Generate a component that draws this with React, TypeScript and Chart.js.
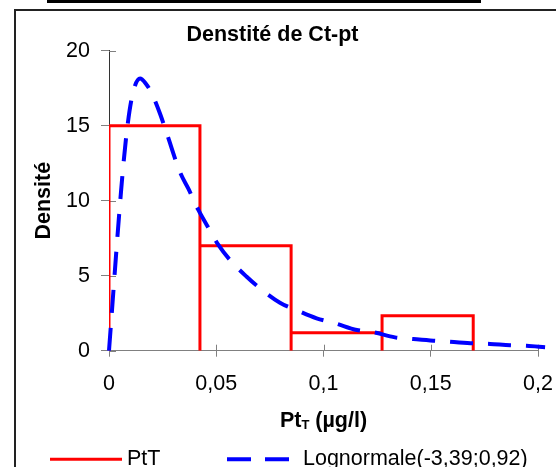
import { useEffect, useRef } from 'react';
import { Chart, registerables } from 'chart.js';

Chart.register(...registerables);

const FONT = "'Liberation Sans', Arial, Helvetica, sans-serif";

// Histogram of PtT: bin edges (µg/l) and density of each bin
const binEdges = [0, 0.0424, 0.0849, 0.1273, 0.1698];
const binDensity = [15, 7, 1.2, 2.33];

// Fitted lognormal density, sampled along x (µg/l)
const curveX = [
  0, 0.0056, 0.0082, 0.011, 0.0145, 0.0172, 0.0199, 0.0238, 0.0269, 0.0331,
  0.037, 0.0416, 0.0455, 0.051, 0.0564, 0.0642, 0.0704, 0.0797, 0.0875, 0.0968,
  0.1054, 0.1155, 0.1232, 0.1333, 0.1419, 0.1512, 0.159, 0.1698, 0.1776, 0.187,
  0.1947, 0.2033,
];
const curveY = [
  0, 10.6, 14.5, 17.1, 18.15, 17.8, 17.16, 15.8, 14.5, 11.9,
  10.8, 9.4, 8.4, 7.05, 6.05, 4.93, 4.16, 3.2, 2.7, 2.16,
  1.83, 1.38, 1.23, 0.89, 0.78, 0.67, 0.6, 0.49, 0.45, 0.36,
  0.33, 0.23,
];

const xTickValues = [0, 0.05, 0.1, 0.15, 0.2];
const yTickValues = [0, 5, 10, 15, 20];

const chartTitle = 'Denstité de Ct-pt';
const yTitle = 'Densité';
const xTitleMain = 'Pt';
const xTitleSub = 'T';
const xTitleUnit = ' (µg/l)';
const seriesNames = ['PtT', 'Lognormale(-3,39;0,92)'];
const seriesColors = ['#ff0000', '#0000ff'];
const curveDash = [23, 15];

const fmt = (v: number) => String(parseFloat(v.toFixed(4))).replace('.', ',');

// Step outline of the histogram: up, across, down for each bin
function histogramOutline() {
  const pts: { x: number; y: number }[] = [{ x: binEdges[0], y: 0 }];
  binDensity.forEach((d, i) => {
    pts.push({ x: binEdges[i], y: d }, { x: binEdges[i + 1], y: d }, { x: binEdges[i + 1], y: 0 });
  });
  return pts;
}

// Tick marks that cross the axes (inner half; the outer half is Chart.js's own)
const innerTicks = {
  id: 'innerTicks',
  beforeDatasetsDraw(chart: any) {
    const { ctx, scales } = chart;
    const x = scales.x;
    const y = scales.y;
    ctx.save();
    ctx.strokeStyle = '#808080';
    ctx.lineWidth = 1;
    ctx.beginPath();
    x.ticks.forEach((_t: any, i: number) => {
      const px = Math.round(x.getPixelForTick(i)) + 0.5;
      ctx.moveTo(px, y.bottom);
      ctx.lineTo(px, y.bottom - 6);
    });
    y.ticks.forEach((_t: any, i: number) => {
      const py = Math.round(y.getPixelForTick(i)) + 0.5;
      ctx.moveTo(x.left, py);
      ctx.lineTo(x.left + 7, py);
    });
    ctx.stroke();
    ctx.restore();
  },
};

// X axis title with subscript, and the legend row
const extraText = {
  id: 'extraText',
  afterDraw(chart: any) {
    const { ctx, chartArea } = chart;
    ctx.save();
    ctx.fillStyle = '#000';
    ctx.textBaseline = 'alphabetic';
    ctx.textAlign = 'left';

    const big = `bold 21.5px ${FONT}`;
    const small = `bold 13px ${FONT}`;
    ctx.font = big;
    const w1 = ctx.measureText(xTitleMain).width;
    const w3 = ctx.measureText(xTitleUnit).width;
    ctx.font = small;
    const w2 = ctx.measureText(xTitleSub).width;
    const cx = (chartArea.left + chartArea.right) / 2;
    const base = chartArea.bottom + 76.3;
    let tx = cx - (w1 + w2 + w3) / 2;
    ctx.font = big;
    ctx.fillText(xTitleMain, tx, base);
    tx += w1;
    ctx.font = small;
    ctx.fillText(xTitleSub, tx, base + 1.5);
    tx += w2;
    ctx.font = big;
    ctx.fillText(xTitleUnit, tx, base);

    // legend
    const ly = 459.3;
    const textBase = 465;
    const items = [
      { x0: 50, x1: 122, tx: 127, width: 3, dash: [] as number[] },
      { x0: 227, x1: 299, tx: 303, width: 4, dash: [24, 14] },
    ];
    ctx.font = `21.5px ${FONT}`;
    items.forEach((it, i) => {
      ctx.save();
      ctx.strokeStyle = seriesColors[i];
      ctx.lineWidth = it.width;
      ctx.lineCap = 'butt';
      ctx.setLineDash(it.dash);
      ctx.beginPath();
      ctx.moveTo(it.x0, ly);
      ctx.lineTo(it.x1, ly);
      ctx.stroke();
      ctx.restore();
      ctx.fillText(seriesNames[i], it.tx, textBase);
    });
    ctx.restore();
  },
};

export default function App() {
  const canvasRef = useRef<HTMLCanvasElement | null>(null);

  useEffect(() => {
    const canvas = canvasRef.current;
    if (!canvas) return;
    const chart = new Chart(canvas, {
      type: 'scatter',
      data: {
        datasets: [
          {
            label: seriesNames[0],
            data: histogramOutline(),
            showLine: true,
            borderColor: seriesColors[0],
            backgroundColor: seriesColors[0],
            borderWidth: 3,
            pointRadius: 0,
            pointHoverRadius: 0,
            tension: 0,
            fill: false,
            order: 1,
            borderJoinStyle: 'miter',
          },
          {
            label: seriesNames[1],
            data: curveX.map((x, i) => ({ x, y: curveY[i] })),
            showLine: true,
            borderColor: seriesColors[1],
            backgroundColor: seriesColors[1],
            borderWidth: 4,
            borderDash: curveDash,
            pointRadius: 0,
            pointHoverRadius: 0,
            cubicInterpolationMode: 'monotone',
            fill: false,
            clip: false,
            order: 0,
          },
        ],
      },
      options: {
        responsive: false,
        animation: false,
        events: [],
        layout: { autoPadding: false, padding: { left: 7, right: 18, top: 0, bottom: 0 } },
        plugins: {
          legend: { display: false },
          tooltip: { enabled: false },
          title: {
            display: true,
            text: chartTitle,
            color: '#000',
            font: { family: FONT, size: 21.5, weight: 'bold' },
            padding: { top: 22.1, bottom: 2.8 },
          },
        },
        scales: {
          x: {
            type: 'linear',
            min: 0,
            max: 0.2,
            afterBuildTicks: (s: any) => {
              s.ticks = xTickValues.map((value) => ({ value }));
            },
            afterFit: (s: any) => {
              s.height = 116.3;
              s.paddingLeft = 0;
              s.paddingRight = 0;
            },
            ticks: {
              callback: (v: any) => fmt(Number(v)),
              color: '#000',
              font: { family: FONT, size: 21.5 },
              padding: 14,
              maxRotation: 0,
              autoSkip: false,
            },
            grid: { drawOnChartArea: false, drawTicks: true, tickLength: 6, color: '#808080', lineWidth: 1 },
            border: { display: true, color: '#808080', width: 1 },
          },
          y: {
            type: 'linear',
            min: 0,
            max: 20,
            afterBuildTicks: (s: any) => {
              s.ticks = yTickValues.map((value) => ({ value }));
            },
            afterFit: (s: any) => {
              s.width = 102;
              s.paddingTop = 0;
              s.paddingBottom = 0;
            },
            title: {
              display: true,
              text: yTitle,
              color: '#000',
              font: { family: FONT, size: 21.5, weight: 'bold' },
              padding: { top: 24.1, bottom: 0 },
            },
            ticks: {
              callback: (v: any) => fmt(Number(v)),
              color: '#000',
              font: { family: FONT, size: 21.5 },
              padding: 11,
              autoSkip: false,
            },
            grid: { drawOnChartArea: false, drawTicks: true, tickLength: 8, color: '#808080', lineWidth: 1 },
            border: { display: true, color: '#333333', width: 1 },
          },
        },
      } as any,
      plugins: [innerTicks, extraText],
    });
    return () => chart.destroy();
  }, []);

  return (
    <div style={{ position: 'absolute', left: 0, top: 0, width: 556, height: 467, overflow: 'hidden', background: '#fff' }}>
      <div style={{ position: 'absolute', left: 47, top: 0, width: 434, height: 3, background: '#000' }} />
      <div
        style={{
          position: 'absolute',
          left: 14,
          top: 8.5,
          width: 600,
          height: 500,
          borderLeft: '2px solid #222',
          borderTop: '2px solid #222',
          boxSizing: 'border-box',
        }}
      />
      <canvas ref={canvasRef} width={556} height={467} style={{ position: 'absolute', left: 0, top: 0 }} />
    </div>
  );
}
